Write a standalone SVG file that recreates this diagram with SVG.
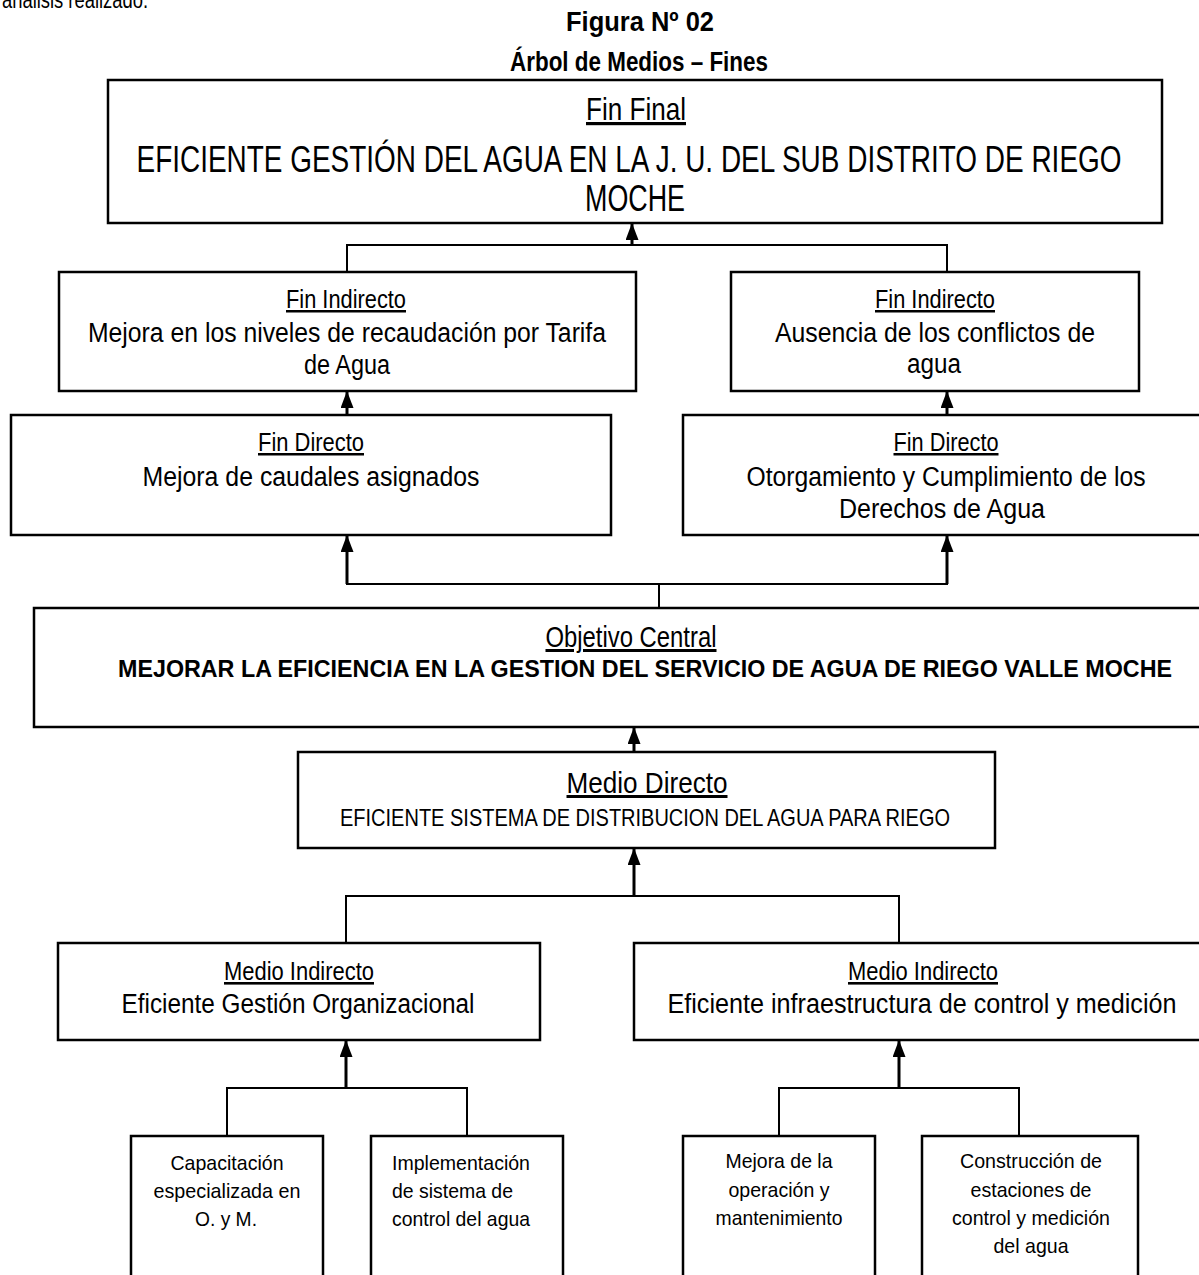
<svg xmlns="http://www.w3.org/2000/svg" width="1199" height="1275" viewBox="0 0 1199 1275">
<style>
.box{fill:#fff;stroke:#000;stroke-width:2.5}
.con{fill:none;stroke:#000;stroke-width:2}
.arr{fill:none;stroke:#000;stroke-width:3}
text{fill:#000;text-anchor:middle}
.n{font-family:"Liberation Sans Narrow","Liberation Sans",Arial,sans-serif}
.u{text-decoration:underline}
.b{font-family:"Liberation Sans",Arial,sans-serif;font-weight:bold}
.s{font-family:"Liberation Sans",Arial,sans-serif}
</style>
<defs>
<marker id="ah" markerUnits="userSpaceOnUse" markerWidth="17" markerHeight="13" refX="16" refY="6.5" orient="auto">
<path d="M0,0 L17,6.5 L0,13 z" fill="#000"/>
</marker>
</defs>
<rect width="1199" height="1275" fill="#fff"/>
<text class="s" x="2" y="8" font-size="24" style="text-anchor:start" textLength="146" lengthAdjust="spacingAndGlyphs">análisis realizado.</text>
<text class="b" x="640" y="31" font-size="28" textLength="148" lengthAdjust="spacingAndGlyphs">Figura Nº 02</text>
<text class="b" x="639" y="71" font-size="28" textLength="258" lengthAdjust="spacingAndGlyphs">Árbol de Medios – Fines</text>

<g id="connectors">
<polyline class="con" points="347,272 347,245 947,245 947,272"/>
<line class="arr" x1="632" y1="245" x2="632" y2="224" marker-end="url(#ah)"/>
<line class="arr" x1="347" y1="448" x2="347" y2="392" marker-end="url(#ah)"/>
<line class="arr" x1="947" y1="448" x2="947" y2="392" marker-end="url(#ah)"/>
<polyline class="con" points="659,608 659,584"/>
<line class="con" x1="346" y1="584" x2="948" y2="584"/>
<line class="arr" x1="347" y1="584" x2="347" y2="536" marker-end="url(#ah)"/>
<line class="arr" x1="947" y1="584" x2="947" y2="536" marker-end="url(#ah)"/>
<line class="arr" x1="634" y1="752" x2="634" y2="728" marker-end="url(#ah)"/>
<line class="arr" x1="634" y1="896" x2="634" y2="849" marker-end="url(#ah)"/>
<polyline class="con" points="346,943 346,896 899,896 899,943"/>
<line class="arr" x1="346" y1="1088" x2="346" y2="1041" marker-end="url(#ah)"/>
<line class="arr" x1="899" y1="1088" x2="899" y2="1041" marker-end="url(#ah)"/>
<polyline class="con" points="227,1136 227,1088 467,1088 467,1136"/>
<polyline class="con" points="779,1136 779,1088 1019,1088 1019,1136"/>
</g>

<g id="fin-final">
<rect class="box" x="108" y="80" width="1054" height="143"/>
<text class="n u" x="636" y="120" font-size="32" textLength="100" lengthAdjust="spacingAndGlyphs">Fin Final</text>
<text class="n" x="629" y="172" font-size="37" textLength="985" lengthAdjust="spacingAndGlyphs">EFICIENTE GESTIÓN DEL AGUA EN LA J. U.  DEL SUB DISTRITO DE RIEGO</text>
<text class="n" x="635" y="211" font-size="37" textLength="100" lengthAdjust="spacingAndGlyphs">MOCHE</text>
</g>

<g id="fin-indirecto-1">
<rect class="box" x="59" y="272" width="577" height="119"/>
<text class="n u" x="346" y="308" font-size="25" textLength="120" lengthAdjust="spacingAndGlyphs">Fin Indirecto</text>
<text class="n" x="347" y="342" font-size="27" textLength="518" lengthAdjust="spacingAndGlyphs">Mejora en los niveles de recaudación por Tarifa</text>
<text class="n" x="347" y="374" font-size="27" textLength="86" lengthAdjust="spacingAndGlyphs">de Agua</text>
</g>

<g id="fin-indirecto-2">
<rect class="box" x="731" y="272" width="408" height="119"/>
<text class="n u" x="935" y="308" font-size="25" textLength="120" lengthAdjust="spacingAndGlyphs">Fin Indirecto</text>
<text class="n" x="935" y="342" font-size="27" textLength="320" lengthAdjust="spacingAndGlyphs">Ausencia de los conflictos de</text>
<text class="n" x="934" y="373" font-size="27" textLength="54" lengthAdjust="spacingAndGlyphs">agua</text>
</g>

<g id="fin-directo-1">
<rect class="box" x="11" y="415" width="600" height="120"/>
<text class="n u" x="311" y="451" font-size="25" textLength="106" lengthAdjust="spacingAndGlyphs">Fin Directo</text>
<text class="n" x="311" y="486" font-size="27" textLength="337" lengthAdjust="spacingAndGlyphs">Mejora de  caudales asignados</text>
</g>

<g id="fin-directo-2">
<rect class="box" x="683" y="415" width="530" height="120"/>
<text class="n u" x="946" y="451" font-size="25" textLength="105" lengthAdjust="spacingAndGlyphs">Fin Directo</text>
<text class="n" x="946" y="486" font-size="27" textLength="399" lengthAdjust="spacingAndGlyphs">Otorgamiento y  Cumplimiento de los</text>
<text class="n" x="942" y="518" font-size="27" textLength="206" lengthAdjust="spacingAndGlyphs">Derechos de Agua</text>
</g>

<g id="objetivo-central">
<rect class="box" x="34" y="608" width="1226" height="119"/>
<text class="n u" x="631" y="647" font-size="30" textLength="171" lengthAdjust="spacingAndGlyphs">Objetivo Central</text>
<text class="b" x="645" y="677" font-size="23" textLength="1054" lengthAdjust="spacingAndGlyphs">MEJORAR LA EFICIENCIA EN LA GESTION DEL SERVICIO DE AGUA DE RIEGO VALLE  MOCHE</text>
</g>

<g id="medio-directo">
<rect class="box" x="298" y="752" width="697" height="96"/>
<text class="n u" x="647" y="793" font-size="30" textLength="161" lengthAdjust="spacingAndGlyphs">Medio Directo</text>
<text class="n" x="645" y="826" font-size="24" textLength="610" lengthAdjust="spacingAndGlyphs">EFICIENTE SISTEMA DE DISTRIBUCION DEL AGUA PARA RIEGO</text>
</g>

<g id="medio-indirecto-1">
<rect class="box" x="58" y="943" width="482" height="97"/>
<text class="n u" x="299" y="980" font-size="26" textLength="150" lengthAdjust="spacingAndGlyphs">Medio Indirecto</text>
<text class="n" x="298" y="1013" font-size="27" textLength="353" lengthAdjust="spacingAndGlyphs">Eficiente Gestión Organizacional</text>
</g>

<g id="medio-indirecto-2">
<rect class="box" x="634" y="943" width="580" height="97"/>
<text class="n u" x="923" y="980" font-size="26" textLength="150" lengthAdjust="spacingAndGlyphs">Medio Indirecto</text>
<text class="n" x="922" y="1013" font-size="27" textLength="509" lengthAdjust="spacingAndGlyphs">Eficiente infraestructura de control y medición</text>
</g>

<g id="capacitacion">
<rect class="box" x="131" y="1136" width="192" height="160"/>
<text class="s" x="227" y="1170" font-size="21" textLength="113" lengthAdjust="spacingAndGlyphs">Capacitación</text>
<text class="s" x="227" y="1198" font-size="21" textLength="147" lengthAdjust="spacingAndGlyphs">especializada en</text>
<text class="s" x="226" y="1226" font-size="21" textLength="62" lengthAdjust="spacingAndGlyphs">O. y M.</text>
</g>

<g id="implementacion">
<rect class="box" x="371" y="1136" width="192" height="160"/>
<text class="s" x="392" y="1170" font-size="21" style="text-anchor:start" textLength="138" lengthAdjust="spacingAndGlyphs">Implementación</text>
<text class="s" x="392" y="1198" font-size="21" style="text-anchor:start" textLength="121" lengthAdjust="spacingAndGlyphs">de sistema de</text>
<text class="s" x="392" y="1226" font-size="21" style="text-anchor:start" textLength="138" lengthAdjust="spacingAndGlyphs">control del agua</text>
</g>

<g id="mejora-operacion">
<rect class="box" x="683" y="1136" width="192" height="160"/>
<text class="s" x="779" y="1168" font-size="21" textLength="107" lengthAdjust="spacingAndGlyphs">Mejora de la</text>
<text class="s" x="779" y="1197" font-size="21" textLength="101" lengthAdjust="spacingAndGlyphs">operación y</text>
<text class="s" x="779" y="1225" font-size="21" textLength="127" lengthAdjust="spacingAndGlyphs">mantenimiento</text>
</g>

<g id="construccion">
<rect class="box" x="922" y="1136" width="216" height="160"/>
<text class="s" x="1031" y="1168" font-size="21" textLength="142" lengthAdjust="spacingAndGlyphs">Construcción de</text>
<text class="s" x="1031" y="1197" font-size="21" textLength="121" lengthAdjust="spacingAndGlyphs">estaciones de</text>
<text class="s" x="1031" y="1225" font-size="21" textLength="158" lengthAdjust="spacingAndGlyphs">control y medición</text>
<text class="s" x="1031" y="1253" font-size="21" textLength="75" lengthAdjust="spacingAndGlyphs">del agua</text>
</g>
</svg>
